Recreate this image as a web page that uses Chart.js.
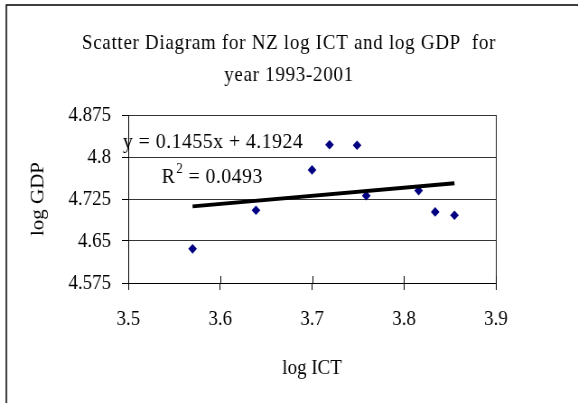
<!DOCTYPE html>
<html><head><meta charset="utf-8">
<script src="https://cdn.jsdelivr.net/npm/chart.js@4/dist/chart.umd.min.js"></script>
<style>
html,body{margin:0;padding:0;background:#fff;overflow:hidden}
#view{width:578px;height:403px;overflow:hidden;position:relative}
#wrap{width:640px;height:403px;position:absolute;left:0;top:0;transform:scaleX(0.903125);transform-origin:0 0}
</style>
</head><body><div id="view"><div id="wrap"><canvas id="c" width="640" height="403"></canvas></div></div>
<script>
// ---- data ----
const logICT = [3.570, 3.639, 3.700, 3.719, 3.749, 3.759, 3.816, 3.834, 3.855];
const logGDP = [4.636, 4.705, 4.777, 4.822, 4.821, 4.731, 4.740, 4.702, 4.696];
const xTicks = [3.5, 3.6, 3.7, 3.8, 3.9];
const yTicks = [4.575, 4.65, 4.725, 4.8, 4.875];
const trendSlope = 0.1455;
const trendIntercept = 4.1924;
const titleLines = ['Scatter Diagram for NZ log ICT and log GDP  for', 'year 1993-2001'];
const eqLabel = 'y = 0.1455x + 4.1924';
const r2Label = ['R', '2', ' = 0.0493'];
const xTitle = 'log ICT';
const yTitle = 'log GDP';

const FONT = "'Liberation Serif', 'Times New Roman', serif";
const xMin = Math.min(...logICT), xMax = Math.max(...logICT);
const trendData = [xMin, xMax].map(x => ({x, y: trendSlope * x + trendIntercept}));

const decor = {
  id: 'decor',
  afterDraw(chart) {
    const ctx = chart.ctx, a = chart.chartArea;
    const xs = chart.scales.x;
    ctx.save();
    // outer frame (left and top edges; the rest is cut off)
    ctx.strokeStyle = '#000'; ctx.lineWidth = 1.5;
    ctx.beginPath();
    ctx.moveTo(7, 403); ctx.lineTo(7, 5); ctx.lineTo(645, 5);
    ctx.stroke();
    // right border of plot
    ctx.lineWidth = 1; ctx.strokeStyle = '#222';
    ctx.beginPath(); ctx.moveTo(Math.round(a.right) + 0.5, a.top); ctx.lineTo(Math.round(a.right) + 0.5, a.bottom); ctx.stroke();
    // inner halves of the cross tick marks
    ctx.strokeStyle = '#000';
    xTicks.forEach(v => {
      const px = Math.round(xs.getPixelForValue(v)) + 0.5;
      ctx.beginPath(); ctx.moveTo(px, a.bottom); ctx.lineTo(px, a.bottom - 7); ctx.stroke();
    });
    // title
    ctx.fillStyle = '#000';
    ctx.textAlign = 'center'; ctx.textBaseline = 'middle';
    ctx.font = '21px ' + FONT;
    ctx.letterSpacing = '0.8px';
    ctx.fillText(titleLines[0], 320, 43);
    ctx.fillText(titleLines[1], 320, 75);
    // trendline equation
    ctx.textAlign = 'left'; ctx.textBaseline = 'alphabetic';
    ctx.font = '22px ' + FONT;
    ctx.letterSpacing = '0.5px';
    ctx.fillText(eqLabel, 136, 148);
    let x = 179;
    ctx.fillText(r2Label[0], x, 183);
    x += ctx.measureText(r2Label[0]).width;
    ctx.font = '14px ' + FONT;
    ctx.fillText(r2Label[1], x + 1, 173);
    x += ctx.measureText(r2Label[1]).width + 1;
    ctx.font = '22px ' + FONT;
    ctx.fillText(r2Label[2], x, 183);
    ctx.letterSpacing = '0px';
    ctx.restore();
  }
};

new Chart(document.getElementById('c'), {
  type: 'scatter',
  data: {
    datasets: [
      {
        type: 'line', label: 'trend', data: trendData,
        borderColor: '#000', borderWidth: 4, pointRadius: 0, fill: false, order: 0
      },
      {
        label: 'log GDP', data: logICT.map((x, i) => ({x, y: logGDP[i]})),
        pointStyle: 'rectRot', pointRadius: 4.8, pointBorderWidth: 0,
        backgroundColor: '#000080', borderColor: '#000080', order: 1
      }
    ]
  },
  options: {
    responsive: false, animation: false, devicePixelRatio: 1,
    layout: {padding: {top: 115, left: 10, right: 91, bottom: 22}},
    plugins: {legend: {display: false}, tooltip: {enabled: false}, title: {display: false}},
    scales: {
      x: {
        type: 'linear', min: 3.5, max: 3.9,
        afterBuildTicks: s => { s.ticks = xTicks.map(v => ({value: v})); },
        afterFit: s => { s.height = 98; },
        ticks: {font: {family: FONT, size: 21}, color: '#000', padding: 17,
                callback: (v, i) => xTicks[i].toFixed(1)},
        grid: {drawOnChartArea: false, drawTicks: true, tickLength: 7, tickColor: '#000', color: '#000'},
        border: {color: '#000', width: 1},
        title: {display: true, text: xTitle, color: '#000', font: {family: FONT, size: 21}, padding: {top: 6, bottom: 0}}
      },
      y: {
        type: 'linear', min: 4.575, max: 4.875,
        afterBuildTicks: s => { s.ticks = yTicks.map(v => ({value: v})); },
        afterFit: s => { s.width = 132; },
        ticks: {font: {family: FONT, size: 21}, color: '#000', padding: 12,
                callback: (v, i) => String(yTicks[i])},
        grid: {color: '#333', tickLength: 7, tickColor: '#000', lineWidth: 1},
        border: {color: '#000', width: 1},
        title: {display: true, text: yTitle, color: '#000', font: {family: FONT, size: 21}, padding: {top: 20, bottom: 0}}
      }
    }
  },
  plugins: [decor]
});
</script></body></html>
